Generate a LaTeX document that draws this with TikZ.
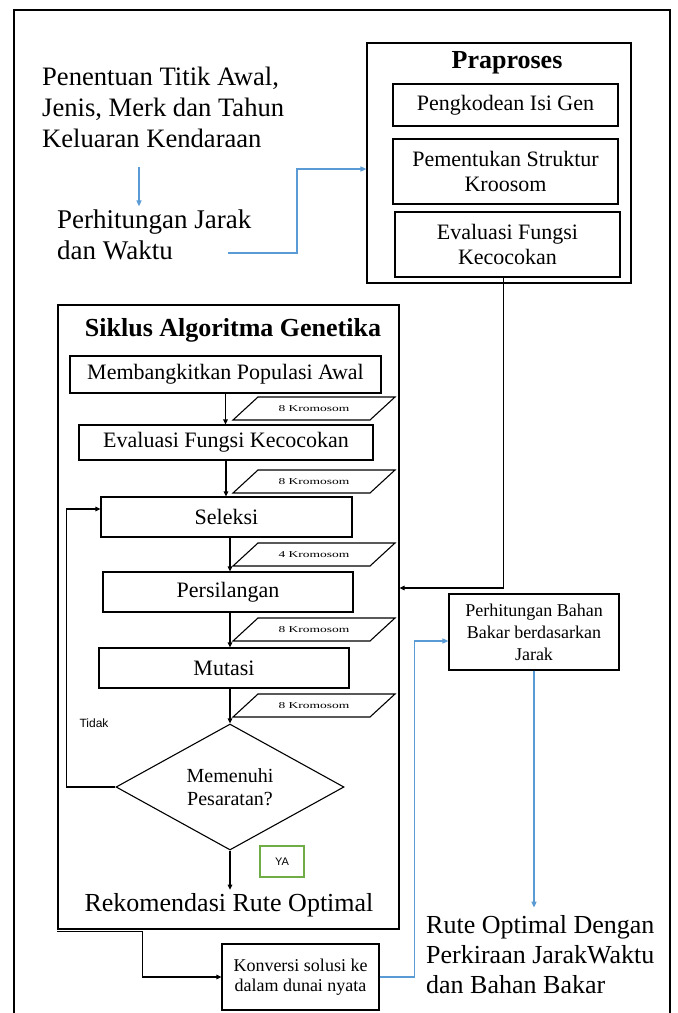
\documentclass[tikz,border=0pt]{standalone}
\usepackage{fontspec}
\setmainfont{Liberation Serif}
\newfontfamily\labelsans{Liberation Sans}
\usepackage{graphicx}
\usetikzlibrary{arrows.meta,shapes.geometric}
\definecolor{linkblue}{RGB}{91,155,213}
\definecolor{okgreen}{RGB}{112,173,71}
\newcommand{\bigtext}{\fontsize{26}{30}\selectfont}
\newcommand{\titletext}{\fontsize{26}{30}\selectfont\bfseries}
\newcommand{\boxtext}{\fontsize{22}{25}\selectfont}
\newcommand{\kromo}[1]{\scalebox{1.5}[1]{\fontsize{9}{9}\selectfont #1 Kromosom}}

\begin{document}
\begin{tikzpicture}[x=1pt,y=-1pt,
  procbox/.style={draw, line width=1.1pt, inner sep=0pt, align=center, font=\boxtext},
  bigtxt/.style={font=\bigtext, align=left, anchor=west, inner xsep=0pt},
  arr/.style={-{Triangle[length=5pt,width=4.5pt]}, line width=1.1pt},
  bluearr/.style={-{Triangle[length=6pt,width=5pt]}, line width=1.4pt, linkblue}]
\useasboundingbox (0,0) rectangle (678,1013);
\draw[line width=1.2pt] (14,1013) -- (14,10) -- (670,10) -- (670,1013);

% inputs
\node[bigtxt, font=\fontsize{26.6}{31}\selectfont] (pen) at (42,107) {Penentuan Titik Awal,\\Jenis, Merk dan Tahun\\Keluaran Kendaraan};
\node[bigtxt, font=\fontsize{27}{31}\selectfont] (pjw) at (57,235) {Perhitungan Jarak\\dan Waktu};
\coordinate (penout) at (139,167);
\coordinate (pjwout) at (228,253);

% praproses
\node[draw, line width=1.1pt, minimum width=264, minimum height=240] (pra) at (499,163) {};
\node[font=\titletext] (ptitle) at (507,63) {Praproses};
\node[procbox, minimum width=225, minimum height=42] (pig) at (505.5,105) {Pengkodean Isi Gen};
\node[procbox, minimum width=225, minimum height=65] (pks) at (505.5,171.5) {Pementukan Struktur\\Kroosom};
\node[procbox, minimum width=225, minimum height=65] (efk0) at (507.5,244.5) {Evaluasi Fungsi\\Kecocokan};

% siklus
\node[draw, line width=1.1pt, minimum width=341, minimum height=624] (sik) at (228.5,617) {};
\node[font=\titletext] (stitle) at (233,330) {Siklus Algoritma Genetika};
\node[procbox, minimum width=311, minimum height=37] (mpa) at (225.5,374.5) {Membangkitkan Populasi Awal};
\node[procbox, minimum width=294, minimum height=35] (efk) at (226,442.5) {Evaluasi Fungsi Kecocokan};
\node[procbox, minimum width=251, minimum height=40] (sel) at (226.5,517) {Seleksi};
\node[procbox, minimum width=250, minimum height=40] (per) at (228,592) {Persilangan};
\node[procbox, minimum width=250, minimum height=40] (mut) at (224,668) {Mutasi};
\node[draw, line width=1.1pt, shape=diamond, aspect=1.8, inner sep=0pt, minimum width=228, minimum height=126,
  align=center, font=\fontsize{20}{23}\selectfont] (dia) at (230,787) {Memenuhi\\Pesaratan?};
\node[font={\labelsans\fontsize{12}{14}\selectfont}] (tidak) at (94,723) {Tidak};
\node[draw=okgreen, line width=1.3pt, minimum width=44, minimum height=31,
  font={\labelsans\fontsize{11}{13}\selectfont}] (ya) at (282,861.5) {YA};
\node[font=\bigtext] (rek) at (229,905) {Rekomendasi Rute Optimal};

\foreach \i/\ytop/\n in {1/397/8, 2/470/8, 3/543/4, 4/618/8, 5/694/8} {
  \draw[line width=1.1pt] (233,\ytop+23) -- (258,\ytop) -- (395,\ytop) -- (370,\ytop+23) -- cycle;
  \node (kro\i) at (314,\ytop+11.5) {\kromo{\n}};
}

\draw[arr] (mpa.south) -- (mpa.south |- efk.north);
\draw[arr] (efk.south) -- (efk.south |- sel.north);
\draw[arr] (sel.south -| dia.north) -- (per.north -| dia.north);
\draw[arr] (per.south -| dia.north) -- (mut.north -| dia.north);
\draw[arr] (mut.south -| dia.north) -- (dia.north);
\draw[arr] (dia.south) -- (dia.south |- rek.north);
\draw[arr] (dia.west) -- ++(-49,0) |- ([yshift=8pt]sel.west);

% output side
\node[procbox, minimum width=157, minimum height=66, font=\fontsize{18}{20}\selectfont] (kon) at (300.5,977) {Konversi solusi ke\\dalam dunai nyata};
\node[procbox, minimum width=170, minimum height=76, font=\fontsize{18}{22}\selectfont] (pbb) at (534,632) {Perhitungan Bahan\\Bakar berdasarkan\\Jarak};
\node[bigtxt, inner ysep=8pt] (rute) at (426,955) {Rute Optimal Dengan\\Perkiraan JarakWaktu\\dan Bahan Bakar};

\draw[bluearr] (penout) -- (penout |- pjw.north);
\draw[bluearr] (pjwout) -- ++(69,0) |- ([yshift=-6pt]pra.west);
\draw[arr] ([xshift=-4pt]efk0.south) |- ([yshift=29pt]sik.east);
\draw[arr] ([yshift=-1.5pt]sik.south west) -| ([xshift=-79pt]kon.west) -- (kon.west);
\draw[bluearr] (kon.east) -- ++(35,0) |- ([yshift=-9pt]pbb.west);
\draw[bluearr] (pbb.south) -- (pbb.south |- rute.north);
\end{tikzpicture}
\end{document}
